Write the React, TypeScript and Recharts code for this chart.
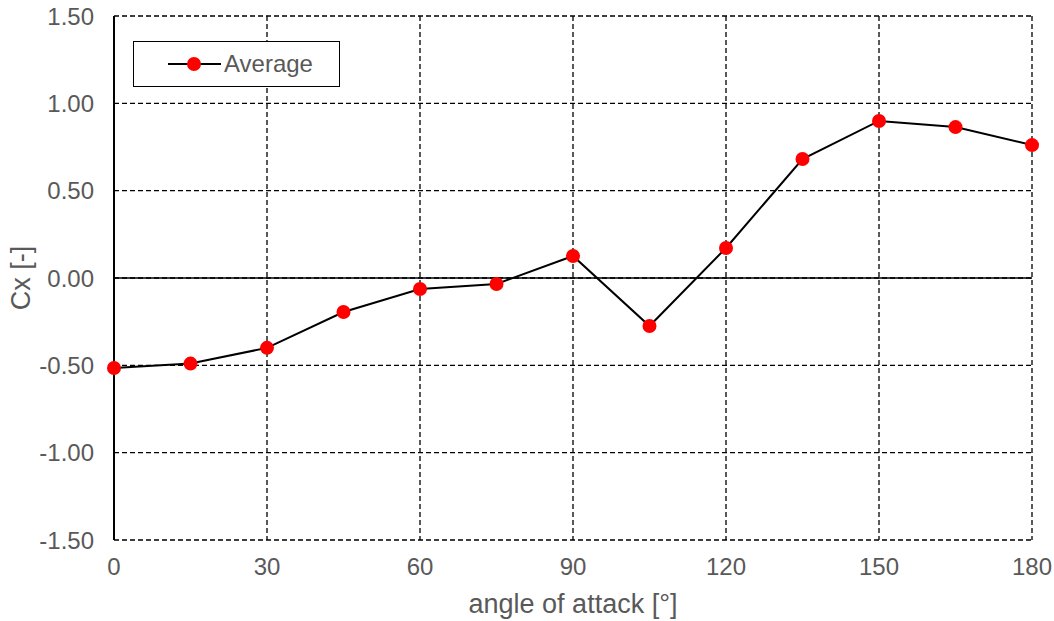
import {
  LineChart, Line, XAxis, YAxis, CartesianGrid, ReferenceLine,
} from 'recharts'

const ANGLES = [0, 15, 30, 45, 60, 75, 90, 105, 120, 135, 150, 165, 180]
const CX_AVG = [-0.515, -0.49, -0.40, -0.195, -0.063, -0.034, 0.126, -0.275, 0.172, 0.681, 0.899, 0.864, 0.761]
const X_TICKS = [0, 30, 60, 90, 120, 150, 180]
const Y_TICKS = [-1.5, -1.0, -0.5, 0, 0.5, 1.0, 1.5]

const data = ANGLES.map((a, i) => ({ angle: a, avg: CX_AVG[i] }))

const FONT = '"Liberation Sans", Arial, sans-serif'
const TEXT = '#595959'

function LegendBox() {
  return (
    <div
      style={{
        position: 'absolute', left: 133, top: 41, width: 207, height: 46,
        border: '1.5px solid #000', background: '#fff', boxSizing: 'border-box',
        display: 'flex', alignItems: 'center', fontFamily: FONT,
      }}
    >
      <svg width={90} height={20}>
        <line x1={34} y1={10} x2={87} y2={10} stroke="#000" strokeWidth={2} />
        <circle cx={60} cy={10} r={7} fill="#ff0000" />
      </svg>
      <span style={{ fontSize: 24, color: TEXT, marginLeft: 0 }}>Average</span>
    </div>
  )
}

// y-axis title, centred on the plot height
function YTitle(props: any) {
  const vb = props.viewBox || {}
  const cy = (vb.y ?? 16) + (vb.height ?? 524) / 2
  const cx = 21
  return (
    <text
      x={cx} y={cy} transform={`rotate(-90 ${cx} ${cy})`}
      textAnchor="middle" dominantBaseline="central"
      fill={TEXT} fontSize={27} fontFamily={FONT}
    >
      Cx [-]
    </text>
  )
}

export default function App() {
  return (
    <div style={{ position: 'absolute', left: 0, top: 0, width: 1054, height: 621, background: '#fff' }}>
      <LineChart width={1054} height={621} data={data} margin={{ top: 16, right: 22, left: 0, bottom: 0 }}>
        <CartesianGrid stroke="#000" strokeDasharray="5 3" strokeWidth={1.3} />
        <XAxis
          dataKey="angle" type="number" domain={[0, 180]} ticks={X_TICKS} height={81}
          axisLine={false} tickLine={false}
          tick={{ fill: TEXT, fontSize: 24, fontFamily: FONT, dy: 10 }}
          label={{ value: 'angle of attack [°]', position: 'insideBottom', offset: 8, fill: TEXT, fontSize: 27, fontFamily: FONT }}
        />
        <YAxis
          type="number" domain={[-1.5, 1.5]} ticks={Y_TICKS} width={114}
          axisLine={{ stroke: '#000', strokeWidth: 2 }} tickLine={false}
          tickFormatter={(v: number) => v.toFixed(2)}
          tick={{ fill: TEXT, fontSize: 24, fontFamily: FONT, dx: -12 }}
          label={{ content: YTitle }}
        />
        <ReferenceLine y={0} stroke="#000" strokeWidth={1.5} />
        <Line
          dataKey="avg" name="Average" stroke="#000" strokeWidth={2}
          dot={{ r: 7, fill: '#ff0000', stroke: 'none' }} activeDot={false}
          isAnimationActive={false}
        />
      </LineChart>
      <LegendBox />
    </div>
  )
}
